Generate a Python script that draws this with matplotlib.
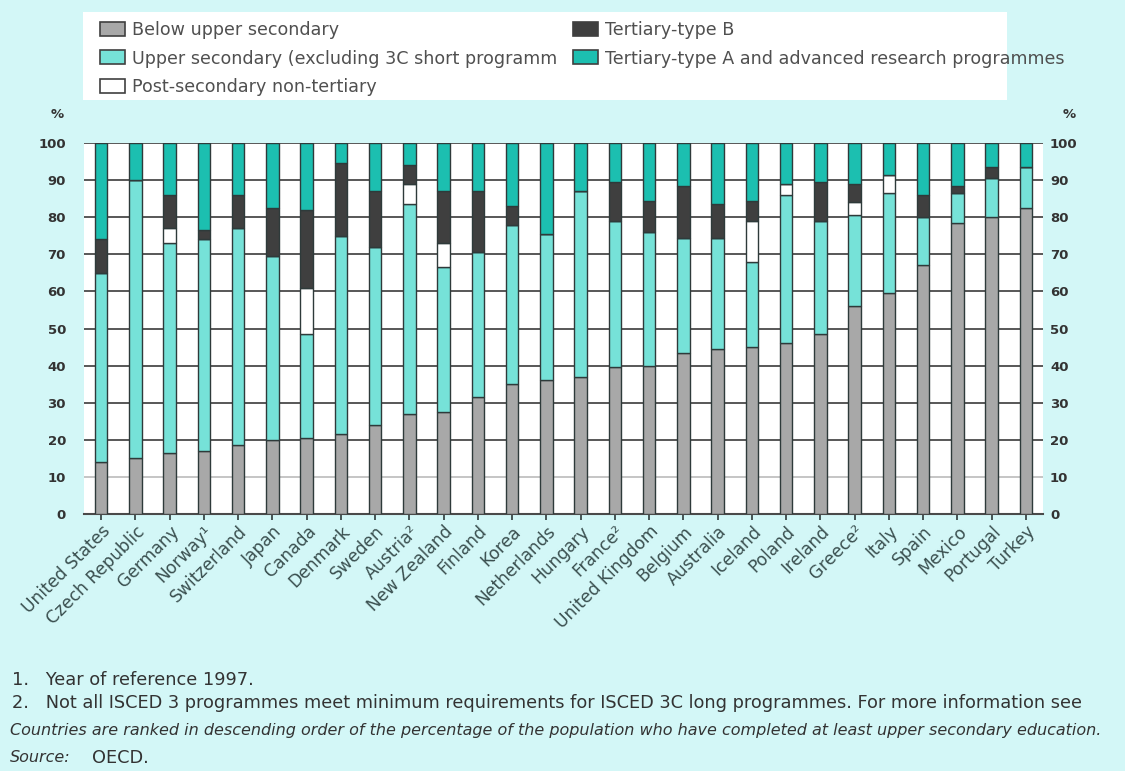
import matplotlib

matplotlib.use("Agg")
import matplotlib.pyplot as plt
import numpy as np
from matplotlib.patches import Patch, Rectangle

countries = [
    "United States", "Czech Republic", "Germany", "Norway\u00b9", "Switzerland",
    "Japan", "Canada", "Denmark", "Sweden", "Austria\u00b2", "New Zealand",
    "Finland", "Korea", "Netherlands", "Hungary", "France\u00b2", "United Kingdom",
    "Belgium", "Australia", "Iceland", "Poland", "Ireland", "Greece\u00b2",
    "Italy", "Spain", "Mexico", "Portugal", "Turkey",
]

# shares of the population (%) by level of attainment
below_upper = [14, 15, 16.5, 17, 18.5, 20, 20.5, 21.5, 24, 27, 27.5, 31.5, 35, 36,
               37, 39.5, 40, 43.5, 44.5, 45, 46, 48.5, 56, 59.5, 67, 78.5, 80, 82.5]
upper_sec = [51, 75, 56.5, 57, 58.5, 49.5, 28, 53.5, 48, 56.5, 39, 39, 43, 39.5,
             50, 39.5, 36, 31, 30, 23, 40, 30.5, 24.5, 27, 13, 8, 10.5, 11]
post_sec = [0, 0, 4, 0, 0, 0, 12.5, 0, 0, 5.5, 6.5, 0, 0, 0,
            0, 0, 0, 0, 0, 11, 3, 0, 3.5, 5, 0, 0, 0, 0]
tertiary_b = [9, 0, 9, 2.5, 9, 13, 21, 19.5, 15, 5, 14, 16.5, 5, 0,
              0, 10.5, 8.5, 14, 9, 5.5, 0, 10.5, 5, 0, 6, 2, 3, 0]
tertiary_a = [26, 10, 14, 23.5, 14, 17.5, 18, 5.5, 13, 6, 13, 13, 17, 24.5,
              13, 10.5, 15.5, 11.5, 16.5, 15.5, 11, 10.5, 11, 8.5, 14, 11.5, 6.5, 6.5]

series_labels = [
    "Below upper secondary",
    "Upper secondary (excluding 3C short programm",
    "Post-secondary non-tertiary",
    "Tertiary-type B",
    "Tertiary-type A and advanced research programmes",
]
series_colors = ["#a8a8a8", "#76e2d8", "#ffffff", "#3f3f3f", "#1cbfb0"]
y_ticks = list(range(0, 101, 10))

footnotes = [
    "1.   Year of reference 1997.",
    "2.   Not all ISCED 3 programmes meet minimum requirements for ISCED 3C long "
    "programmes. For more information see",
]
ranking_note = ("Countries are ranked in descending order of the percentage of the "
                "population who have completed at least upper secondary education.")

bg = "#d3f7f7"
edge = "#2e3a3a"
text_gray = "#505050"
note_color = "#333333"

fig = plt.figure(figsize=(11.25, 7.71), dpi=100, facecolor=bg)
ax = fig.add_axes([84 / 1125, 257 / 771, 959 / 1125, 371 / 771])
ax.set_facecolor("white")

x = np.arange(len(countries))
series = [below_upper, upper_sec, post_sec, tertiary_b, tertiary_a]
bottom = np.zeros(len(countries))
for values, color in zip(series, series_colors):
    values = np.array(values, dtype=float)
    ax.bar(x, values, bottom=bottom, width=0.36, color=color,
           edgecolor=edge, linewidth=1.0, zorder=3)
    bottom += values

ax.set_xlim(-0.5, len(countries) - 0.5)
ax.set_ylim(0, 100)
ax.set_yticks(y_ticks)
ax.set_yticklabels([str(t) for t in y_ticks])
ax.yaxis.grid(True, color="#4a4a4a", linewidth=1.3, zorder=0)
for tick, line in zip(y_ticks, ax.get_ygridlines()):
    if tick == 10:
        line.set_color("#c0c0c0")
ax.set_axisbelow(True)

for side in ["left", "right", "top"]:
    ax.spines[side].set_visible(False)
ax.spines["bottom"].set_color("#4a4a4a")
ax.spines["bottom"].set_linewidth(1.5)
ax.tick_params(axis="y", length=0, pad=13, labelsize=9.5, labelcolor=note_color)
for lab in ax.get_yticklabels():
    lab.set_fontweight("bold")

# same scale repeated on the right
ax_r = ax.twinx()
ax_r.set_ylim(ax.get_ylim())
ax_r.set_yticks(y_ticks)
ax_r.set_yticklabels([str(t) for t in y_ticks], fontweight="bold")
ax_r.tick_params(axis="y", length=0, pad=5, labelsize=9.5, labelcolor=note_color)
for spine in ax_r.spines.values():
    spine.set_visible(False)

ax.set_xticks(x)
ax.set_xticklabels(countries, rotation=45, ha="right", rotation_mode="anchor",
                   fontsize=12.3, color="#3b5050")
ax.tick_params(axis="x", length=4, width=1.2, color=edge, pad=2)

ax.text(-0.021, 1.06, "%", transform=ax.transAxes, ha="right", va="bottom",
        fontsize=9.5, fontweight="bold", color=note_color)
ax.text(1.02, 1.06, "%", transform=ax.transAxes, ha="left", va="bottom",
        fontsize=9.5, fontweight="bold", color=note_color)

# legend panel
fig.patches.append(Rectangle((83 / 1125, 671 / 771), 924 / 1125, 88 / 771,
                             transform=fig.transFigure, facecolor="white",
                             edgecolor="none", zorder=0))
handles = [Patch(facecolor=c, edgecolor="#404040", linewidth=1.2) for c in series_colors]
leg_kw = dict(frameon=False, fontsize=12.6, handlelength=1.4, handleheight=0.85,
              handletextpad=0.45, labelspacing=0.6, borderpad=0, borderaxespad=0,
              labelcolor=text_gray, loc="upper left")
fig.legend(handles[:3], series_labels[:3], bbox_to_anchor=(100 / 1125, 1 - 21 / 771),
           **leg_kw)
fig.legend(handles[3:], series_labels[3:], bbox_to_anchor=(573 / 1125, 1 - 21 / 771),
           **leg_kw)

# notes below the chart
fig.text(12 / 1125, 1 - 680 / 771, footnotes[0], fontsize=12.8, color=note_color,
         va="center")
fig.text(12 / 1125, 1 - 703 / 771, footnotes[1], fontsize=12.8, color=note_color,
         va="center")
fig.text(10 / 1125, 1 - 731 / 771, ranking_note, fontsize=11.5, style="italic",
         color=note_color, va="center")
fig.text(10 / 1125, 1 - 758 / 771, "Source:", fontsize=11.5, style="italic",
         color=note_color, va="center")
fig.text(92 / 1125, 1 - 758 / 771, "OECD.", fontsize=12.8, color=note_color,
         va="center")

fig.savefig("out.png", dpi=100, facecolor=bg)
